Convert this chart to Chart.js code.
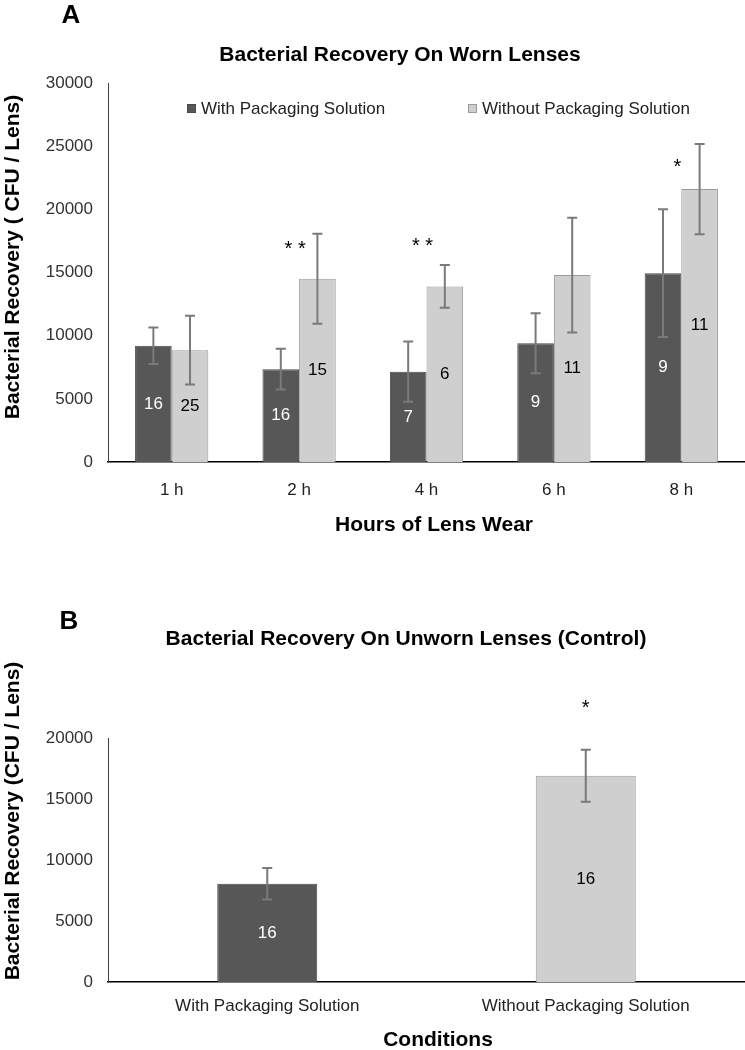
<!DOCTYPE html>
<html>
<head>
<meta charset="utf-8">
<script src="https://cdn.jsdelivr.net/npm/chart.js@4.4.1/dist/chart.umd.min.js"></script>
<style>
  body { margin: 0; background: #fff; }
  #wrap-a { position: absolute; left: 0; top: 0; width: 745px; height: 560px; }
  #wrap-b { position: absolute; left: 0; top: 560px; width: 745px; height: 490px; }
</style>
</head>
<body>
<div id="wrap-a"><canvas id="worn-chart"></canvas></div>
<div id="wrap-b"><canvas id="unworn-chart"></canvas></div>
<script>
// Panel A - worn lenses
const hours = ['1 h', '2 h', '4 h', '6 h', '8 h'];
const withPkg = [9200, 7350, 7150, 9400, 14950];
const withPkgErr = [1440, 1620, 2380, 2380, 5050];
const withoutPkg = [8850, 14500, 13900, 14800, 21600];
const withoutPkgErr = [2720, 3560, 1700, 4540, 3580];
const nWith = [16, 16, 7, 9, 9];
const nWithout = [25, 15, 6, 11, 11];
const sigMarks = ['', '**', '**', '', '*'];
const sigLevel = [0, 17300, 17500, 0, 23800];
const yTicksA = [0, 5000, 10000, 15000, 20000, 25000, 30000];

// Panel B - unworn lenses (control)
const conditions = ['With Packaging Solution', 'Without Packaging Solution'];
const controlMeans = [8050, 16900];
const controlErr = [1290, 2130];
const controlN = [16, 16];
const controlSig = ['', '*'];
const controlSigLevel = [0, 22900];
const yTicksB = [0, 5000, 10000, 15000, 20000];

const DARK = '#575757';
const LIGHT = '#cfcfcf';
const FONT = '"Liberation Sans", Arial, sans-serif';

Chart.defaults.font.family = FONT;
Chart.defaults.font.size = 17;
Chart.defaults.color = '#333';

function drawErrorBars(chart, errSets) {
  const ctx = chart.ctx;
  const y = chart.scales.y;
  ctx.save();
  ctx.strokeStyle = '#7a7a7a';
  ctx.lineWidth = 2;
  errSets.forEach((errs, di) => {
    const meta = chart.getDatasetMeta(di);
    meta.data.forEach((bar, i) => {
      const v = chart.data.datasets[di].data[i];
      const top = y.getPixelForValue(v + errs[i]);
      const bot = y.getPixelForValue(v - errs[i]);
      ctx.beginPath();
      ctx.moveTo(bar.x, top); ctx.lineTo(bar.x, bot);
      ctx.moveTo(bar.x - 5, top); ctx.lineTo(bar.x + 5, top);
      ctx.moveTo(bar.x - 5, bot); ctx.lineTo(bar.x + 5, bot);
      ctx.stroke();
    });
  });
  ctx.restore();
}

// n counts in the middle of each bar
function drawCounts(chart, countSets, colors) {
  const ctx = chart.ctx;
  ctx.save();
  ctx.font = '17px ' + FONT;
  ctx.textAlign = 'center';
  ctx.textBaseline = 'middle';
  countSets.forEach((counts, di) => {
    const meta = chart.getDatasetMeta(di);
    meta.data.forEach((bar, i) => {
      ctx.fillStyle = colors[di][i];
      ctx.fillText(String(counts[i]), bar.x, (bar.y + bar.base) / 2);
    });
  });
  ctx.restore();
}

function drawStars(chart, marks, levels, xs) {
  const ctx = chart.ctx;
  const y = chart.scales.y;
  ctx.save();
  ctx.font = '20px ' + FONT;
  ctx.fillStyle = '#000';
  ctx.textAlign = 'center';
  ctx.textBaseline = 'middle';
  marks.forEach((m, i) => {
    if (!m) return;
    ctx.fillText(m.split('').join(' '), xs[i], y.getPixelForValue(levels[i]) + 6);
  });
  ctx.restore();
}

function text(ctx, str, x, y, font, rot) {
  ctx.save();
  ctx.font = font;
  ctx.fillStyle = '#000';
  ctx.textAlign = 'center';
  ctx.textBaseline = 'middle';
  ctx.translate(x, y);
  if (rot) ctx.rotate(rot);
  ctx.fillText(str, 0, 0);
  ctx.restore();
}

const plainTick = v => String(v);

const wornPlugin = {
  id: 'wornExtras',
  afterDatasetsDraw(chart) {
    drawErrorBars(chart, [withPkgErr, withoutPkgErr]);
    drawCounts(chart, [nWith, nWithout], [nWith.map(() => '#fff'), nWithout.map(() => '#000')]);
    const xs = chart.scales.x;
    drawStars(chart, sigMarks, sigLevel, hours.map((h, i) => xs.getPixelForValue(i) - 4));
  },
  afterDraw(chart) {
    const ctx = chart.ctx;
    text(ctx, 'A', 71, 16, 'bold 26px ' + FONT);
    text(ctx, 'Bacterial Recovery On Worn Lenses', 400, 55, 'bold 21px ' + FONT);
    text(ctx, 'Bacterial Recovery ( CFU / Lens)', 13, 257, 'bold 21px ' + FONT, -Math.PI / 2);
    text(ctx, 'Hours of Lens Wear', 434, 525, 'bold 21px ' + FONT);
    // legend
    const items = [[187, 0], [468, 1]];
    ctx.save();
    ctx.font = '17px ' + FONT;
    ctx.textBaseline = 'middle';
    items.forEach(([x, di]) => {
      const ds = chart.data.datasets[di];
      ctx.fillStyle = ds.backgroundColor;
      ctx.fillRect(x, 104, 9, 9);
      ctx.strokeStyle = ds.borderColor;
      ctx.lineWidth = 1;
      ctx.strokeRect(x + 0.5, 104.5, 8, 8);
      ctx.fillStyle = '#222';
      ctx.fillText(ds.label, x + 14, 109);
    });
    ctx.restore();
  }
};

new Chart(document.getElementById('worn-chart').getContext('2d'), {
  type: 'bar',
  data: {
    labels: hours,
    datasets: [{
      label: 'With Packaging Solution',
      data: withPkg,
      backgroundColor: DARK,
      borderColor: '#4a4a4a',
      borderWidth: 1
    }, {
      label: 'Without Packaging Solution',
      data: withoutPkg,
      backgroundColor: LIGHT,
      borderColor: '#9a9a9a',
      borderWidth: 1
    }]
  },
  options: {
    responsive: true,
    maintainAspectRatio: false,
    animation: false,
    devicePixelRatio: 1,
    layout: { padding: { top: 83, left: 0, right: 0, bottom: 0 } },
    datasets: { bar: { categoryPercentage: 0.575, barPercentage: 1 } },
    plugins: { legend: { display: false }, tooltip: { enabled: false } },
    scales: {
      x: {
        grid: { display: false, drawTicks: false },
        border: { color: '#000', width: 1.5 },
        ticks: { padding: 18, color: '#222', maxRotation: 0 },
        afterFit(s) { s.height = 560 - 462; }
      },
      y: {
        min: 0, max: 30000,
        afterBuildTicks(s) { s.ticks = yTicksA.map(v => ({ value: v })); },
        grid: { display: false, drawTicks: false },
        border: { color: '#404040', width: 1 },
        ticks: { padding: 15, color: '#333', callback: plainTick },
        afterFit(s) { s.width = 108; }
      }
    }
  },
  plugins: [wornPlugin]
});

const unwornPlugin = {
  id: 'unwornExtras',
  afterDatasetsDraw(chart) {
    drawErrorBars(chart, [controlErr]);
    drawCounts(chart, [controlN], [['#fff', '#000']]);
    const xs = chart.scales.x;
    drawStars(chart, controlSig, controlSigLevel, conditions.map((c, i) => xs.getPixelForValue(i)));
  },
  afterDraw(chart) {
    const ctx = chart.ctx;
    text(ctx, 'B', 69, 62, 'bold 26px ' + FONT);
    text(ctx, 'Bacterial Recovery On Unworn Lenses (Control)', 406, 79, 'bold 21px ' + FONT);
    text(ctx, 'Bacterial Recovery (CFU / Lens)', 13, 261, 'bold 21px ' + FONT, -Math.PI / 2);
    text(ctx, 'Conditions', 438, 480, 'bold 21px ' + FONT);
  }
};

new Chart(document.getElementById('unworn-chart').getContext('2d'), {
  type: 'bar',
  data: {
    labels: conditions,
    datasets: [{
      label: 'Bacterial Recovery',
      data: controlMeans,
      backgroundColor: [DARK, LIGHT],
      borderColor: ['#4a4a4a', '#9a9a9a'],
      borderWidth: 1
    }]
  },
  options: {
    responsive: true,
    maintainAspectRatio: false,
    animation: false,
    devicePixelRatio: 1,
    layout: { padding: { top: 178, left: 0, right: 0, bottom: 0 } },
    datasets: { bar: { categoryPercentage: 0.314, barPercentage: 1 } },
    plugins: { legend: { display: false }, tooltip: { enabled: false } },
    scales: {
      x: {
        grid: { display: false, drawTicks: false },
        border: { color: '#000', width: 1.5 },
        ticks: { padding: 14, color: '#222', maxRotation: 0 },
        afterFit(s) { s.height = 490 - 422; }
      },
      y: {
        min: 0, max: 20000,
        afterBuildTicks(s) { s.ticks = yTicksB.map(v => ({ value: v })); },
        grid: { display: false, drawTicks: false },
        border: { color: '#404040', width: 1 },
        ticks: { padding: 15, color: '#333', callback: plainTick },
        afterFit(s) { s.width = 108; }
      }
    }
  },
  plugins: [unwornPlugin]
});
</script>
</body>
</html>
